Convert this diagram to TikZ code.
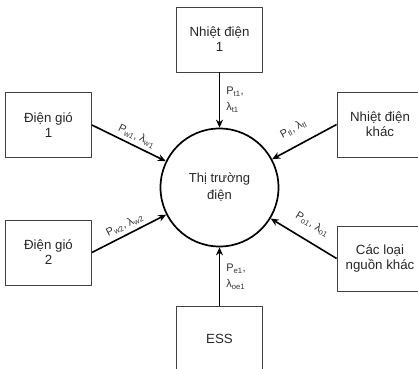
\documentclass[tikz,border=0pt]{standalone}
\usepackage{fontspec}
\setmainfont{Liberation Sans}
\usetikzlibrary{arrows.meta}
\begin{document}
\begin{tikzpicture}[x=1pt, y=-1pt, line join=round, >={Stealth[length=8pt,width=7pt]},
	src/.style={draw=black!75, line width=0.8pt, minimum width=86pt, minimum height=65pt, align=center, font=\fontsize{13.3}{15}\selectfont, text=black!85},
	flow/.style={->, line width=1.6pt},
	lbl/.style={font=\fontsize{11}{16}\selectfont, text=black!80, align=left, inner sep=2pt}]
			\useasboundingbox (0,0) rectangle (418,369);
			\node[draw, circle, line width=1.7pt, minimum size=118pt, align=center, font=\fontsize{13}{17}\selectfont, text=black!85] (thitruong) at (219.5,187.5) {Thị trường\\điện};
			\node[src] (nhiet1) at (219.5,39.5) {Nhiệt điện\\1};
			\node[src] (gio1) at (48.5,125) {Điện gió\\1};
			\node[src] (nhietk) at (380,124.5) {Nhiệt điện\\khác};
			\node[src] (gio2) at (48.5,252.5) {Điện gió\\2};
			\node[src] (khac) at (380,258.5) {Các loại\\nguồn khác};
			\node[src] (ess) at (219.5,338.5) {ESS};
			\draw[flow] (nhiet1) -- (thitruong) node[lbl, midway, right, xshift=4pt]{P\textsubscript{t1},\\λ\textsubscript{t1}};
			\draw[flow] (gio1.east) -- (thitruong) node[lbl, pos=0.55, above=2pt, sloped]{P\textsubscript{w1}, λ\textsubscript{w1}};
			\draw[flow] (nhietk.west) -- (thitruong) node[lbl, pos=0.55, above=9pt, sloped]{P\textsubscript{tl}, λ\textsubscript{tl}};
			\draw[flow] (gio2.east) -- (thitruong) node[lbl, pos=0.5, above=2pt, sloped]{P\textsubscript{w2}, λ\textsubscript{w2}};
			\draw[flow] (khac.west) -- (thitruong) node[lbl, pos=0.5, above=9pt, sloped]{P\textsubscript{o1}, λ\textsubscript{o1}};
			\draw[flow] (ess) -- (thitruong) node[lbl, midway, right, xshift=4pt]{P\textsubscript{e1},\\λ\textsubscript{oe1}};
			\end{tikzpicture}
\end{document}
